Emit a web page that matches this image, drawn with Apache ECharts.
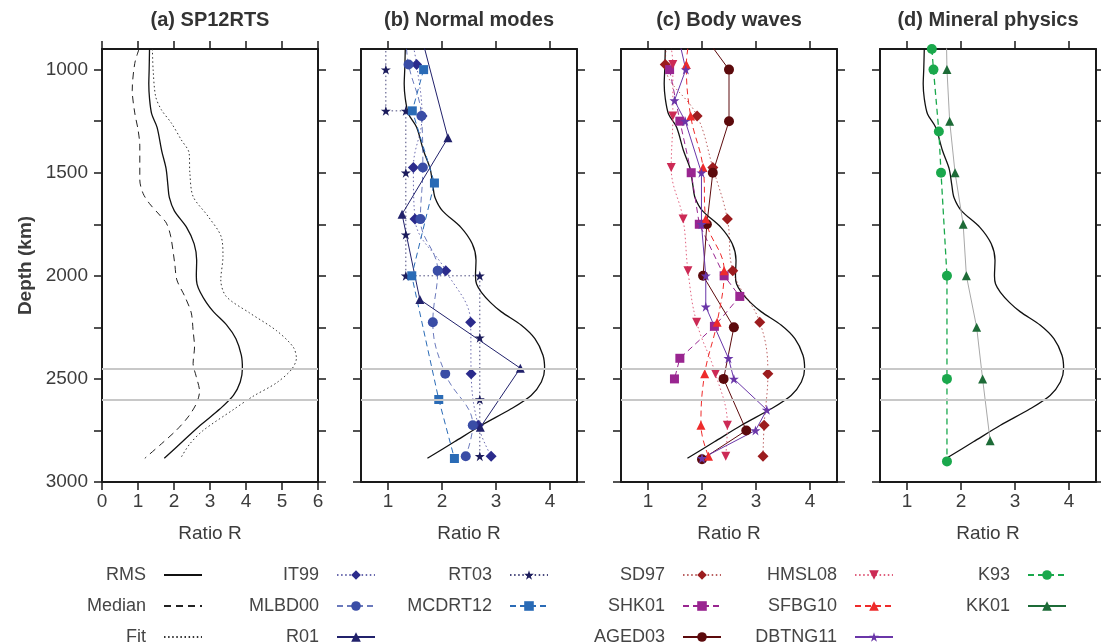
<!DOCTYPE html>
<html><head><meta charset="utf-8">
<script src="https://cdn.jsdelivr.net/npm/echarts@6/dist/echarts.min.js"></script>
<style>html,body{margin:0;padding:0;background:#fff}#c{width:1101px;height:644px}</style>
</head><body><div id="c"></div>
<script>
// ---------------- DATA ----------------
const panelTitles = ['(a) SP12RTS', '(b) Normal modes', '(c) Body waves', '(d) Mineral physics'];
const depthTicks = [1000, 1250, 1500, 1750, 2000, 2250, 2500, 2750, 3000];
const depthLabels = [1000, 1500, 2000, 2500, 3000];
const ratioTicksA = [0, 1, 2, 3, 4, 5, 6];
const ratioTicksBCD = [1, 2, 3, 4];
const boundaryDepths = [2450, 2600];

// (a) SP12RTS
const rmsDepth = [900, 1000, 1070, 1140, 1215, 1280, 1395, 1480, 1560, 1620, 1685, 1765, 1845, 1925, 2000, 2040, 2080, 2130, 2175, 2240, 2305, 2385, 2450, 2515, 2580, 2645, 2725, 2805, 2885];
const rmsRatio = [1.32, 1.31, 1.30, 1.32, 1.38, 1.53, 1.66, 1.78, 1.83, 1.87, 2.01, 2.35, 2.56, 2.63, 2.62, 2.64, 2.73, 2.90, 3.10, 3.47, 3.72, 3.87, 3.90, 3.84, 3.65, 3.28, 2.73, 2.23, 1.73];
const medianDepth = [900, 970, 1100, 1210, 1290, 1370, 1535, 1600, 1650, 1705, 1745, 1810, 1940, 2020, 2100, 2180, 2265, 2345, 2425, 2490, 2560, 2620, 2685, 2750, 2815, 2885];
const medianRatio = [1.03, 0.91, 0.84, 0.91, 1.00, 1.05, 1.05, 1.14, 1.32, 1.60, 1.79, 1.91, 2.02, 2.08, 2.30, 2.48, 2.53, 2.57, 2.53, 2.62, 2.71, 2.62, 2.39, 2.06, 1.65, 1.19];
const fitDepth = [900, 1000, 1130, 1195, 1260, 1340, 1405, 1500, 1615, 1710, 1810, 1905, 2020, 2100, 2180, 2265, 2345, 2400, 2455, 2520, 2585, 2650, 2750, 2815, 2880];
const fitRatio = [1.40, 1.42, 1.49, 1.65, 1.93, 2.20, 2.42, 2.44, 2.53, 2.94, 3.31, 3.36, 3.30, 3.45, 4.10, 4.84, 5.31, 5.40, 5.26, 4.84, 4.19, 3.64, 2.81, 2.44, 2.20];

// (b) Normal modes
const it99Depth = [850, 975, 1225, 1475, 1725, 1975, 2225, 2475, 2725, 2875];
const it99Ratio = [1.44, 1.53, 1.63, 1.47, 1.50, 2.07, 2.53, 2.54, 2.67, 2.91];
const mlbd00Depth = [850, 975, 1225, 1475, 1725, 1975, 2225, 2475, 2725, 2875];
const mlbd00Ratio = [1.33, 1.38, 1.62, 1.645, 1.60, 1.92, 1.83, 2.06, 2.57, 2.44];
const r01Depth = [850, 1331, 1701, 2115, 2448, 2735];
const r01Ratio = [1.63, 2.11, 1.26, 1.59, 3.45, 2.71];
const rt03Depth = [850, 1000, 1200, 1200, 1500, 1800, 2000, 2000, 2300, 2600, 2875];
const rt03Ratio = [0.96, 0.96, 0.96, 1.33, 1.33, 1.33, 1.33, 2.70, 2.70, 2.70, 2.70];
const mcdrt12Depth = [1000, 1200, 1550, 2000, 2600, 2886];
const mcdrt12Ratio = [1.66, 1.45, 1.86, 1.44, 1.94, 2.23];

// (c) Body waves
const sd97Depth = [850, 975, 1225, 1475, 1725, 1975, 2225, 2475, 2725, 2875];
const sd97Ratio = [1.35, 1.32, 1.91, 2.20, 2.47, 2.57, 3.07, 3.22, 3.15, 3.13];
const hmsl08Depth = [850, 975, 1225, 1475, 1725, 1975, 2225, 2475, 2725, 2875];
const hmsl08Ratio = [1.40, 1.46, 1.46, 1.43, 1.65, 1.74, 1.90, 2.25, 2.47, 2.44];
const sfbg10Depth = [850, 975, 1225, 1475, 1725, 1975, 2225, 2475, 2725, 2875];
const sfbg10Ratio = [1.77, 1.71, 1.79, 2.02, 2.07, 2.41, 2.28, 2.05, 1.98, 2.12];
const shk01Depth = [1000, 1250, 1500, 1750, 2000, 2100, 2245, 2400, 2500];
const shk01Ratio = [1.40, 1.59, 1.80, 1.95, 2.41, 2.70, 2.23, 1.59, 1.49];
const aged03Depth = [850, 1000, 1250, 1500, 1750, 2000, 2250, 2500, 2750, 2890];
const aged03Ratio = [2.08, 2.50, 2.50, 2.20, 2.09, 2.02, 2.59, 2.40, 2.82, 2.00];
const dbtng11Depth = [850, 1000, 1150, 1250, 1500, 1750, 2000, 2150, 2400, 2500, 2650, 2750, 2885];
const dbtng11Ratio = [1.57, 1.70, 1.49, 1.69, 1.99, 1.99, 2.07, 2.07, 2.49, 2.59, 3.20, 2.99, 2.00];

// (d) Mineral physics
const k93Depth = [900, 1000, 1300, 1500, 2000, 2500, 2900];
const k93Ratio = [1.46, 1.49, 1.59, 1.63, 1.74, 1.74, 1.74];
const kk01Depth = [850, 1000, 1250, 1500, 1750, 2000, 2250, 2500, 2800];
const kk01Ratio = [1.73, 1.74, 1.79, 1.89, 2.04, 2.10, 2.29, 2.40, 2.54];

// ---------------- LAYOUT / STYLE ----------------
const FONT = '"Liberation Sans", Arial, Helvetica, sans-serif';
const INK = '#1a1a1a';
const TXT = '#3c3c3c';
const grids = [
  {left: 102, top: 49, width: 216, height: 433},
  {left: 361, top: 49, width: 216, height: 433},
  {left: 621, top: 49, width: 216, height: 433},
  {left: 880, top: 49, width: 216, height: 433}
];
const STAR = 'path://M50,0 L61.2,34.5 L97.6,34.5 L68.2,55.9 L79.4,90.5 L50,69.1 L20.6,90.5 L31.8,55.9 L2.4,34.5 L38.8,34.5 Z';
const DOT = [1.5, 2.6];
const DASH = [6, 4];

const zip = (r, d) => r.map((v, i) => [v, d[i]]);

const xAxes = [], yAxes = [];
grids.forEach((g, i) => {
  const isA = i === 0;
  const xr = isA ? {min: 0, max: 6} : {min: 0.5, max: 4.5};
  const xt = isA ? ratioTicksA : ratioTicksBCD;
  const common = {
    type: 'value', gridIndex: i, ...xr, splitLine: {show: false},
    axisLine: {show: true, onZero: false, lineStyle: {color: INK, width: 2}},
    axisTick: {show: true, length: 8, lineStyle: {color: INK, width: 1.5}, customValues: xt}
  };
  xAxes.push({...common, position: 'bottom',
    name: 'Ratio R', nameLocation: 'middle', nameGap: 42,
    nameTextStyle: {fontFamily: FONT, fontSize: 19, color: TXT},
    axisLabel: {show: true, customValues: xt, margin: 10, fontFamily: FONT, fontSize: 19, color: TXT, formatter: v => String(v)}});
  xAxes.push({...common, position: 'top', axisLabel: {show: false}});
  const ycommon = {
    type: 'value', gridIndex: i, min: 900, max: 3000, inverse: true, splitLine: {show: false},
    axisLine: {show: true, onZero: false, lineStyle: {color: INK, width: 2}},
    axisTick: {show: true, length: 8, lineStyle: {color: INK, width: 1.5}, customValues: depthTicks}
  };
  yAxes.push({...ycommon, position: 'left',
    name: isA ? 'Depth (km)' : '', nameLocation: 'middle', nameGap: 67, nameRotate: 90,
    nameTextStyle: {fontFamily: FONT, fontSize: 19, fontWeight: 'bold', color: TXT},
    axisLabel: {show: isA, customValues: depthLabels, margin: 14, fontFamily: FONT, fontSize: 19, color: TXT, formatter: v => String(v)}});
  yAxes.push({...ycommon, position: 'right', axisLabel: {show: false}});
});

function line(name, panel, ratio, depth, o) {
  return {
    type: 'line', name, xAxisIndex: panel * 2, yAxisIndex: panel * 2,
    data: zip(ratio, depth), clip: true, animation: false,
    symbol: o.symbol || 'none', symbolSize: o.size || 9, symbolRotate: o.rotate || 0,
    showSymbol: !!o.symbol, smooth: o.smooth || false,
    itemStyle: {color: o.color, opacity: 1},
    lineStyle: {color: o.lineColor || o.color, width: o.width || 1, type: o.type || 'solid', opacity: o.lineOpacity == null ? 1 : o.lineOpacity},
    emphasis: {disabled: true}, z: o.z || 3,
    markLine: o.bound ? {
      silent: true, symbol: ['none', 'none'], label: {show: false}, animation: false,
      lineStyle: {color: '#c8c8c8', width: 1.8, type: 'solid'},
      data: boundaryDepths.map(d => ({yAxis: d}))
    } : undefined
  };
}

const series = [];
for (let p = 0; p < 4; p++) {
  series.push(line('RMS', p, rmsRatio, rmsDepth, {color: '#111', width: 1.3, smooth: 0.3, bound: true, z: 2}));
}
series.push(line('Median', 0, medianRatio, medianDepth, {color: '#222', width: 1, type: [7, 5], smooth: 0.3}));
series.push(line('Fit', 0, fitRatio, fitDepth, {color: '#333', width: 1, type: DOT, smooth: 0.3}));

series.push(line('IT99', 1, it99Ratio, it99Depth, {color: '#2b2b8c', symbol: 'diamond', size: 11, type: DOT, lineOpacity: 0.7, smooth: 0.4}));
series.push(line('MLBD00', 1, mlbd00Ratio, mlbd00Depth, {color: '#3a4da6', symbol: 'circle', size: 10, type: DASH, lineOpacity: 0.75, smooth: 0.4}));
series.push(line('R01', 1, r01Ratio, r01Depth, {color: '#21216b', symbol: 'triangle', size: 9}));
series.push(line('RT03', 1, rt03Ratio, rt03Depth, {color: '#1c1c5c', symbol: STAR, size: 10, type: DOT, lineOpacity: 0.8}));
series.push(line('MCDRT12', 1, mcdrt12Ratio, mcdrt12Depth, {color: '#2a6bb6', symbol: 'rect', size: 9, type: DASH}));

series.push(line('SD97', 2, sd97Ratio, sd97Depth, {color: '#9c1c1e', symbol: 'diamond', size: 11, type: DOT, lineOpacity: 0.7, smooth: 0.4}));
series.push(line('SHK01', 2, shk01Ratio, shk01Depth, {color: '#992590', symbol: 'rect', size: 9, type: DASH}));
series.push(line('AGED03', 2, aged03Ratio, aged03Depth, {color: '#5c0a0c', symbol: 'circle', size: 10}));
series.push(line('HMSL08', 2, hmsl08Ratio, hmsl08Depth, {color: '#cc2a55', lineColor: '#e0607e', symbol: 'triangle', rotate: 180, size: 9, type: DOT, smooth: 0.4}));
series.push(line('SFBG10', 2, sfbg10Ratio, sfbg10Depth, {color: '#ee2b2b', symbol: 'triangle', size: 9, type: DASH, smooth: 0.4}));
series.push(line('DBTNG11', 2, dbtng11Ratio, dbtng11Depth, {color: '#6a36a8', symbol: STAR, size: 10}));

series.push(line('K93', 3, k93Ratio, k93Depth, {color: '#1aa84c', symbol: 'circle', size: 10, type: DASH, width: 1.3}));
series.push(line('KK01', 3, kk01Ratio, kk01Depth, {color: '#1d6b37', lineColor: '#a8a8a8', symbol: 'triangle', size: 9}));

const legendCols = [
  {names: ['RMS', 'Median', 'Fit'], right: 898},
  {names: ['IT99', 'MLBD00', 'R01'], right: 725},
  {names: ['RT03', 'MCDRT12'], right: 552},
  {names: ['SD97', 'SHK01', 'AGED03'], right: 379},
  {names: ['HMSL08', 'SFBG10', 'DBTNG11'], right: 207},
  {names: ['K93', 'KK01'], right: 34}
];
const noSym = ['RMS', 'Median', 'Fit'];
const legend = legendCols.map(c => ({
  orient: 'vertical', align: 'right', right: c.right, top: 566, height: 120, padding: 0,
  itemWidth: 38, itemHeight: 12, itemGap: 13, selectedMode: false,
  textStyle: {fontFamily: FONT, fontSize: 18, color: '#454545', padding: [0, 13, 0, 0]},
  data: c.names.map(n => {
    const d = {name: n};
    if (noSym.includes(n)) d.itemStyle = {opacity: 0};
    if (n === 'KK01') d.lineStyle = {color: '#1d6b37'};
    return d;
  })
}));

const centers = grids.map(g => g.left + g.width / 2);
const graphic = panelTitles.map((t, i) => ({
  type: 'text', x: centers[i], y: 20, silent: true,
  style: {text: t, fontFamily: FONT, fontSize: 20, fontWeight: 'bold', fill: '#333', align: 'center', verticalAlign: 'middle'}
}));

const chart = echarts.init(document.getElementById('c'), null, {renderer: 'canvas'});
chart.setOption({
  animation: false, backgroundColor: '#fff',
  grid: grids, xAxis: xAxes, yAxis: yAxes, series, legend, graphic,
  tooltip: {show: false}
});
</script></body></html>
